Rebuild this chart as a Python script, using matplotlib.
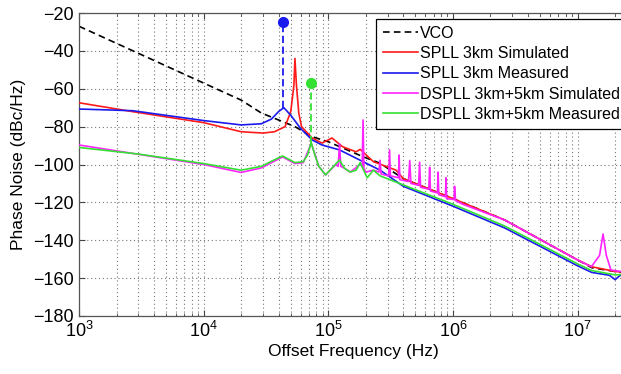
import matplotlib
matplotlib.use("Agg")
import matplotlib.pyplot as plt
from matplotlib.ticker import LogLocator, NullFormatter

plt.rcParams['font.family'] = ['Liberation Sans', 'DejaVu Sans']
plt.rcParams['mathtext.fontset'] = 'custom'
plt.rcParams['mathtext.rm'] = 'Liberation Sans'

# VCO free-running
vco_f = [1e3, 1e4, 2e4, 2.9e4, 5.4e4, 7.4e4, 1e5, 1.9e5, 2.6e5, 4e5, 1e6, 2.6e6, 1e7, 1.3e7, 2e7, 2.5e7]
vco_db = [-27, -57, -66, -72.8, -80, -85.3, -88, -95.9, -99.3, -107.5, -118, -129.3, -150.4, -154.5,
          -156.5, -157.5]

# SPLL 3km simulated
spll_sim_f = [1e3, 2.7e3, 1e4, 2e4, 3e4, 3.7e4, 4.5e4, 5.0e4, 5.3e4, 5.4e4, 5.55e4, 5.8e4, 6.1e4,
              7.4e4, 8.9e4, 1.07e5, 1.3e5, 1.67e5, 1.8e5, 2.3e5, 3.5e5, 4e5, 1e6, 2.6e6, 1e7, 1.3e7,
              2e7, 2.5e7]
spll_sim_db = [-67.4, -72.1, -77.9, -82.7, -83.4, -82.7, -80, -72, -58, -44, -58, -73, -80,
               -86, -88.7, -86, -90.6, -93.3, -92, -98.5, -103, -107.5, -118, -129.3, -150.4, -154,
               -156.5, -157]

# SPLL 3km measured
spll_meas_f = [1e3, 2.7e3, 1e4, 2e4, 2.9e4, 3.5e4, 4.0e4, 4.4e4, 5e4, 6e4, 7.4e4, 8.9e4, 1.23e5,
               1.9e5, 2.6e5, 4e5, 1e6, 2.6e6, 1e7, 1.3e7, 1.8e7, 2e7, 2.2e7, 2.5e7]
spll_meas_db = [-70.7, -71.6, -76.8, -79.1, -78.5, -76, -72, -70, -74, -81, -87, -89.7, -92.3,
                -98.5, -103, -111.5, -122, -133.5, -153.5, -157, -158.5, -160.8, -158.5, -159]

# DSPLL 3km+5km simulated (with spurs)
dspll_sim_f = [1e3, 1e4, 2e4, 2.9e4, 4.3e4, 5.4e4, 6.3e4, 7.3e4, 8.4e4, 9.5e4, 1.15e5,
               1.2e5, 1.23e5, 1.26e5, 1.35e5, 1.5e5, 1.8e5, 1.87e5, 1.9e5, 1.93e5, 2.0e5,
               2.3e5, 2.55e5, 2.6e5, 2.65e5, 3.05e5, 3.1e5, 3.15e5, 3.65e5, 3.7e5, 3.75e5,
               4.4e5, 4.5e5, 4.6e5, 5.3e5, 5.4e5, 5.5e5, 6.4e5, 6.5e5, 6.6e5, 7.5e5, 7.6e5,
               7.7e5, 8.7e5, 8.8e5, 8.9e5, 1.02e6, 1.03e6, 1.05e6, 1.2e6, 2.6e6, 1e7, 1.29e7,
               1.5e7, 1.6e7, 1.7e7, 1.85e7, 2.5e7]
dspll_sim_db = [-89.7, -100, -104.2, -101.8, -96, -99.5, -99, -88.8, -101, -105.5, -100,
                -101, -89, -101, -102, -104, -100, -101, -76.5, -102, -104,
                -103, -104, -97.8, -105, -106, -92.3, -106, -107, -95, -108,
                -109, -97.9, -110, -111, -98.8, -112, -113, -101.5, -114, -115, -104,
                -116, -117, -107, -118, -118.5, -111.5, -119, -121, -129.3, -150.4, -154,
                -148, -136.7, -148, -155.7, -157]

# DSPLL 3km+5km measured
dspll_meas_f = [1e3, 3e3, 1e4, 2e4, 2.9e4, 3.7e4, 4.3e4, 5.4e4, 6.3e4, 6.8e4, 7.3e4, 7.8e4,
                8.4e4, 9.5e4, 1.1e5, 1.23e5, 1.35e5, 1.5e5, 1.67e5, 1.8e5, 2.05e5, 2.3e5, 2.6e5,
                4e5, 1e6, 2.6e6, 1e7, 1.3e7, 2e7, 2.5e7]
dspll_meas_db = [-91, -94.5, -99.5, -103, -101, -97.5, -95.5, -99, -98.5, -95, -88.5, -95,
                 -101, -105.5, -101, -97.6, -102, -104, -103, -99, -107, -103, -106,
                 -110.8, -121, -132.5, -152.5, -156, -158.3, -158]

# resonance markers (frequency, marker level, stem foot)
blue_mark = (4.3e4, -24.7, -70)
green_mark = (7.3e4, -57, -88.5)

RED = '#ff1a1a'
BLUE = '#1a1aee'
MAGENTA = '#ff22ff'
GREEN = '#33e033'

fig = plt.figure(figsize=(6.21, 3.74), dpi=100)
ax = fig.add_axes([79 / 621, 1 - 316 / 374, 1 - 79 / 621 + 0.01, (316 - 13) / 374])

ax.semilogx(vco_f, vco_db, color='black', ls='--', lw=1.2, dashes=(4, 2.5), label='VCO', zorder=2.5)
ax.semilogx(spll_sim_f, spll_sim_db, color=RED, lw=1.2, label='SPLL 3km Simulated', zorder=3)
ax.semilogx(spll_meas_f, spll_meas_db, color=BLUE, lw=1.2, label='SPLL 3km Measured', zorder=3)
ax.semilogx(dspll_sim_f, dspll_sim_db, color=MAGENTA, lw=1.2, label='DSPLL 3km+5km Simulated', zorder=3)
ax.semilogx(dspll_meas_f, dspll_meas_db, color=GREEN, lw=1.2, label='DSPLL 3km+5km Measured', zorder=3)

for (f, top, foot), c in [(blue_mark, BLUE), (green_mark, GREEN)]:
    ax.plot([f, f], [foot, top], color=c, ls='--', lw=1.3, dashes=(4, 2), zorder=3)
    ax.plot([f], [top], 'o', color=c, ms=7, zorder=5)

ax.set_xlim(1e3, 2.5e7)
ax.set_ylim(-180, -20)
ax.set_yticks(range(-180, -19, 20))
ax.xaxis.set_major_locator(LogLocator(base=10, numticks=10))
ax.xaxis.set_minor_locator(LogLocator(base=10, subs=range(2, 10), numticks=20))
ax.xaxis.set_minor_formatter(NullFormatter())

ax.grid(True, which='major', ls=(0, (1, 2.5)), color='#777777', lw=0.8)
ax.grid(True, which='minor', axis='x', ls=(0, (1, 2.5)), color='#777777', lw=0.8)
ax.tick_params(which='both', direction='in', top=True, right=True, labelsize=13, color='#444444')
ax.tick_params(which='major', length=4)
ax.tick_params(which='minor', length=2.5)
for s in ax.spines.values():
    s.set_color('#555555')
    s.set_linewidth(0.9)

ax.set_xlabel('Offset Frequency (Hz)', fontsize=12.5, labelpad=2)
ax.set_ylabel('Phase Noise (dBc/Hz)', fontsize=12.5, labelpad=5)

leg = ax.legend(loc='upper left', bbox_to_anchor=(376 / 621, 1 - 19 / 374),
                bbox_transform=fig.transFigure, fontsize=11.5, frameon=True, fancybox=False,
                framealpha=1, edgecolor='black', handlelength=2.2, handletextpad=0.15,
                labelspacing=0.33, borderpad=0.42, borderaxespad=0)
leg.get_frame().set_linewidth(0.9)
leg.set_zorder(10)

fig.savefig('out.png', dpi=100)
